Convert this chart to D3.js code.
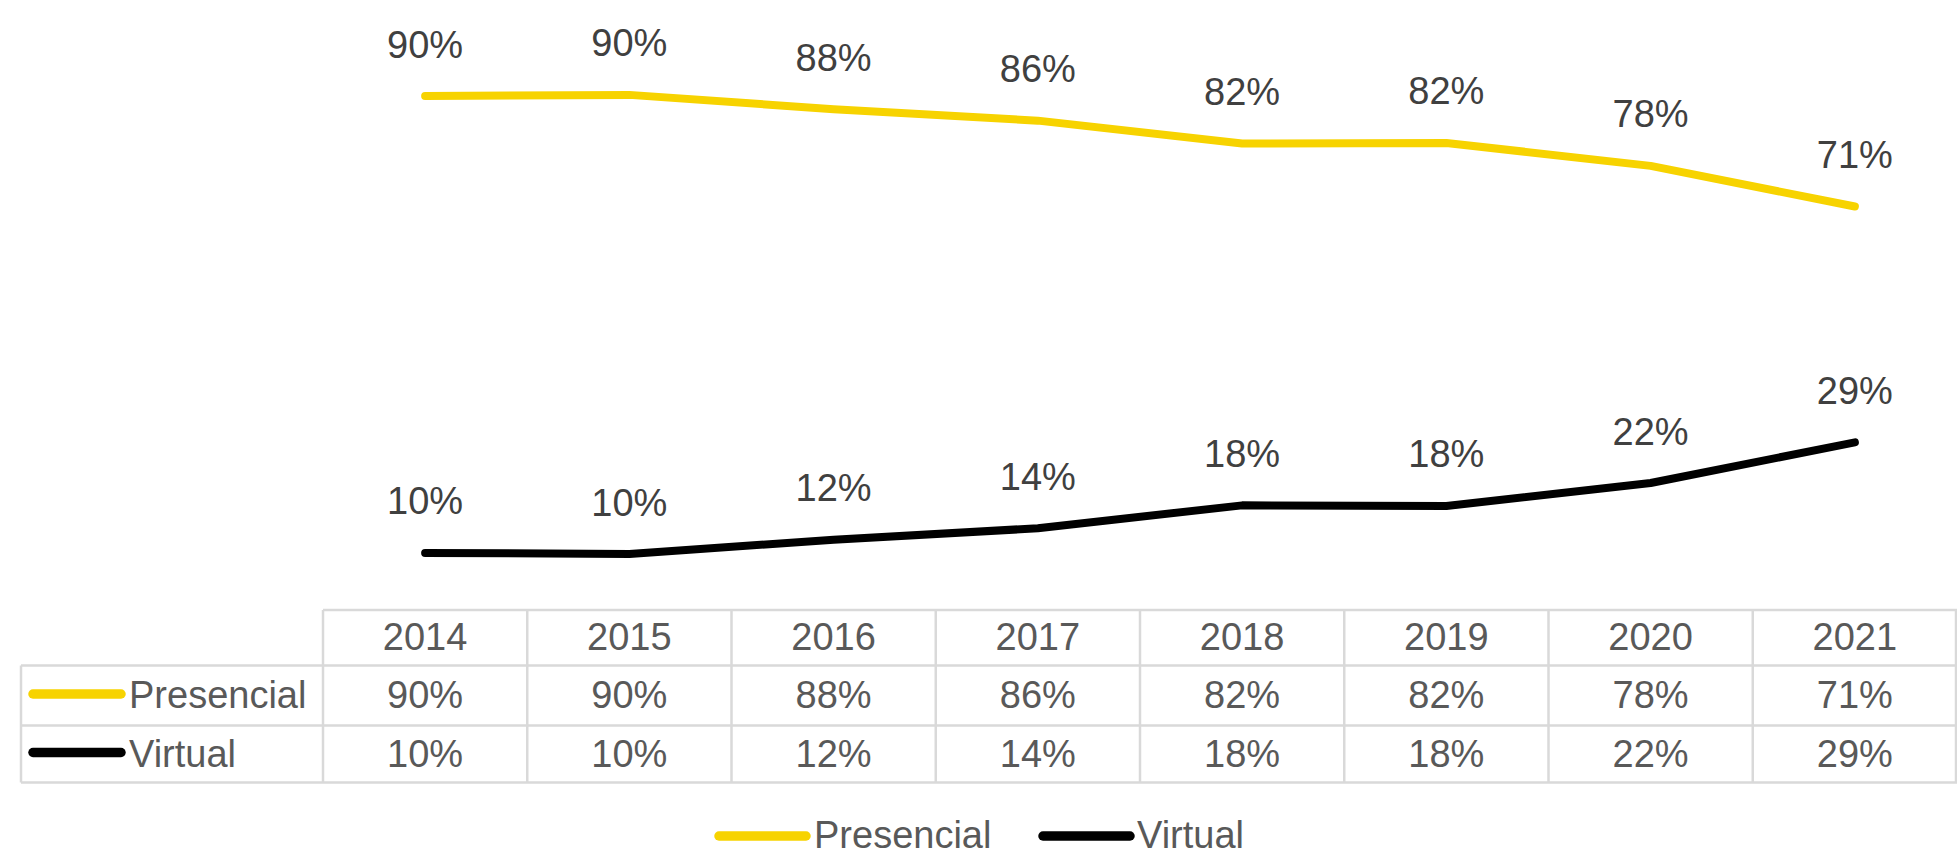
<!DOCTYPE html>
<html>
<head>
<meta charset="utf-8">
<script src="https://cdn.jsdelivr.net/npm/d3@7"></script>
<style>
  html, body { margin: 0; padding: 0; background: #ffffff; }
  svg { display: block; font-family: "Liberation Sans", Arial, sans-serif; }
</style>
</head>
<body>
<svg id="chart" width="1957" height="856"></svg>
<script>
// ---- data ----
const years = ["2014", "2015", "2016", "2017", "2018", "2019", "2020", "2021"];
const seriesNames = ["Presencial", "Virtual"];
const presencial = [89.9, 90.1, 87.6, 85.6, 81.6, 81.7, 77.7, 70.6];
const virtual    = [10.1,  9.9, 12.4, 14.4, 18.4, 18.3, 22.3, 29.4];
const presencialLabels = ["90%", "90%", "88%", "86%", "82%", "82%", "78%", "71%"];
const virtualLabels    = ["10%", "10%", "12%", "14%", "18%", "18%", "22%", "29%"];
const seriesColors = ["#F7D300", "#000000"];

const series = [
  { name: seriesNames[0], values: presencial, labels: presencialLabels, color: seriesColors[0] },
  { name: seriesNames[1], values: virtual, labels: virtualLabels, color: seriesColors[1] }
];

// ---- layout ----
const svg = d3.select("#chart");
const tableLeft = 21, colLeft = 323, rightEdge = 1957;
const plotBottom = 610.7, plotTop = 38.2;
const rowLines = [610, 665.5, 725.5, 782.5];

const x = d3.scaleBand().domain(years).range([colLeft, rightEdge]).padding(0);
const y = d3.scaleLinear().domain([0, 100]).range([plotBottom, plotTop]);
const cx = d => x(d) + x.bandwidth() / 2;

const gridColor = "#d9d9d9";
const tableText = "#595959";
const labelText = "#404040";

// ---- lines ----
const line = d3.line()
  .x((v, i) => cx(years[i]))
  .y(v => y(v));

svg.append("g").selectAll("path")
  .data(series)
  .join("path")
  .attr("d", s => line(s.values))
  .attr("fill", "none")
  .attr("stroke", s => s.color)
  .attr("stroke-width", 8)
  .attr("stroke-linecap", "round")
  .attr("stroke-linejoin", "round");

// ---- data labels ----
series.forEach(s => {
  svg.append("g").selectAll("text")
    .data(s.values)
    .join("text")
    .attr("x", (v, i) => cx(years[i]))
    .attr("y", v => y(v) - 38.5)
    .attr("text-anchor", "middle")
    .attr("font-size", 38)
    .attr("fill", labelText)
    .text((v, i) => s.labels[i]);
});

// ---- data table ----
const tg = svg.append("g");
tg.append("line")
  .attr("x1", colLeft).attr("x2", rightEdge)
  .attr("y1", rowLines[0]).attr("y2", rowLines[0]);
rowLines.slice(1).forEach(yy => {
  tg.append("line")
    .attr("x1", tableLeft).attr("x2", rightEdge)
    .attr("y1", yy).attr("y2", yy);
});
tg.append("line")
  .attr("x1", tableLeft).attr("x2", tableLeft)
  .attr("y1", rowLines[1]).attr("y2", rowLines[3]);
years.forEach(yr => {
  tg.append("line")
    .attr("x1", x(yr)).attr("x2", x(yr))
    .attr("y1", rowLines[0]).attr("y2", rowLines[3]);
});
tg.append("line")
  .attr("x1", rightEdge - 1).attr("x2", rightEdge - 1)
  .attr("y1", rowLines[0]).attr("y2", rowLines[3]);
tg.selectAll("line").attr("stroke", gridColor).attr("stroke-width", 2.5);

// header
tg.append("g").selectAll("text")
  .data(years)
  .join("text")
  .attr("x", d => cx(d))
  .attr("y", (rowLines[0] + rowLines[1]) / 2 + 12.5)
  .attr("text-anchor", "middle")
  .attr("font-size", 38)
  .attr("fill", tableText)
  .text(d => d);

// rows
series.forEach((s, r) => {
  const midY = (rowLines[r + 1] + rowLines[r + 2]) / 2;
  tg.append("line")
    .attr("x1", 33).attr("x2", 121)
    .attr("y1", midY - 1.5).attr("y2", midY - 1.5)
    .attr("stroke", s.color)
    .attr("stroke-width", 9.5)
    .attr("stroke-linecap", "round");
  tg.append("text")
    .attr("x", 129)
    .attr("y", midY + 12.5)
    .attr("font-size", 38)
    .attr("fill", tableText)
    .text(s.name);
  tg.append("g").selectAll("text")
    .data(s.values)
    .join("text")
    .attr("x", (v, i) => cx(years[i]))
    .attr("y", midY + 12.5)
    .attr("text-anchor", "middle")
    .attr("font-size", 38)
    .attr("fill", tableText)
    .text((v, i) => s.labels[i]);
});

// ---- bottom legend ----
const legendItems = [
  { name: seriesNames[0], color: seriesColors[0], x1: 719, x2: 806, tx: 814 },
  { name: seriesNames[1], color: seriesColors[1], x1: 1043, x2: 1130, tx: 1137 }
];
const lg = svg.append("g");
legendItems.forEach(it => {
  lg.append("line")
    .attr("x1", it.x1).attr("x2", it.x2)
    .attr("y1", 836).attr("y2", 836)
    .attr("stroke", it.color)
    .attr("stroke-width", 9.5)
    .attr("stroke-linecap", "round");
  lg.append("text")
    .attr("x", it.tx)
    .attr("y", 847.5)
    .attr("font-size", 38)
    .attr("fill", tableText)
    .text(it.name);
});
</script>
</body>
</html>
